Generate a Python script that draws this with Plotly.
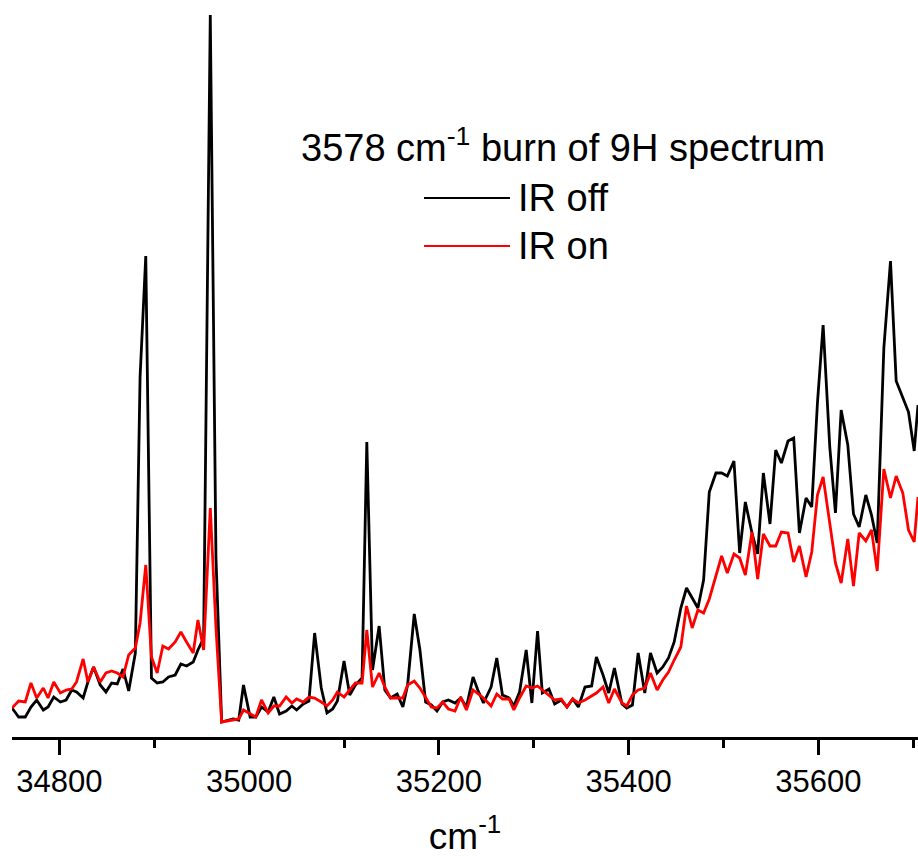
import plotly.graph_objects as go

# wavenumber grid (cm^-1)
wavenumber = [
    34750, 34757, 34764, 34770, 34776, 34783, 34788, 34794, 34801, 34807,
    34813, 34818, 34825, 34830, 34836, 34843, 34849, 34855, 34861, 34867,
    34873, 34880, 34885, 34891, 34897, 34903, 34909, 34915, 34922, 34928,
    34934, 34941, 34946, 34952, 34959, 34965, 34971, 34978, 34983, 34989,
    34994, 35001, 35007, 35013, 35020, 35026, 35032, 35039, 35045, 35050,
    35057, 35063, 35069, 35076, 35082, 35088, 35093, 35100, 35106, 35112,
    35119, 35124, 35130, 35137, 35143, 35149, 35156, 35162, 35167, 35174,
    35180, 35186, 35192, 35198, 35204, 35210, 35217, 35223, 35229, 35236,
    35241, 35247, 35255, 35261, 35267, 35274, 35279, 35285, 35292, 35298,
    35304, 35309, 35316, 35322, 35329, 35335, 35341, 35347, 35354, 35361,
    35366, 35373, 35379, 35385, 35393, 35398, 35404, 35410, 35417, 35423,
    35430, 35436, 35442, 35448, 35455, 35461, 35467, 35473, 35479, 35485,
    35492, 35498, 35504, 35511, 35517, 35523, 35530, 35536, 35542, 35549,
    35555, 35561, 35568, 35574, 35580, 35587, 35593, 35599, 35605, 35612,
    35618, 35624, 35631, 35637, 35643, 35650, 35656, 35662, 35669, 35676,
    35682, 35689, 35695, 35701, 35705,
]

# signal, IR laser off (arb. units)
ir_off = [
    29, 20, 20, 30, 37, 27, 30, 40, 35, 37,
    47, 45, 39, 55, 70, 52, 45, 54, 53, 68,
    46, 84, 360, 481, 59, 54, 55, 60, 62, 73,
    71, 75, 87, 99, 722, 179, 15, 17, 18, 17,
    52, 20, 20, 30, 25, 40, 23, 26, 31, 27,
    33, 36, 104, 49, 24, 28, 36, 76, 42, 52,
    59, 295, 67, 111, 47, 39, 43, 30, 52, 123,
    87, 35, 32, 26, 35, 37, 34, 39, 30, 60,
    47, 34, 50, 79, 42, 39, 31, 45, 87, 34,
    106, 44, 48, 33, 37, 30, 38, 30, 50, 51,
    80, 62, 44, 69, 33, 29, 32, 84, 44, 84,
    64, 70, 79, 95, 129, 149, 139, 129, 157, 245,
    264, 264, 261, 276, 184, 235, 204, 183, 264, 213,
    287, 274, 296, 299, 204, 239, 230, 334, 412, 290,
    224, 327, 292, 223, 210, 242, 222, 194, 389, 476,
    356, 340, 325, 286, 332,
]

# signal, IR laser on (arb. units)
ir_on = [
    29, 36, 35, 54, 39, 49, 39, 55, 44, 47,
    48, 55, 78, 55, 70, 55, 64, 66, 64, 60,
    82, 89, 114, 172, 80, 64, 91, 88, 95, 105,
    95, 84, 117, 87, 229, 109, 15, 16, 17, 18,
    27, 23, 20, 37, 24, 31, 31, 40, 34, 38,
    35, 40, 39, 35, 31, 37, 45, 40, 47, 54,
    54, 107, 50, 64, 50, 39, 39, 39, 52, 56,
    49, 39, 30, 29, 35, 28, 26, 40, 27, 47,
    43, 39, 31, 43, 38, 38, 27, 39, 51, 49,
    51, 47, 41, 37, 38, 30, 38, 34, 37, 41,
    44, 50, 34, 48, 34, 31, 42, 47, 49, 64,
    47, 57, 65, 77, 90, 131, 109, 127, 124, 138,
    160, 181, 164, 183, 179, 162, 205, 158, 203, 191,
    191, 205, 204, 175, 191, 160, 185, 242, 260, 214,
    174, 154, 198, 151, 204, 196, 207, 166, 268, 239,
    261, 244, 207, 195, 240,
]

tick_vals = [34800, 35000, 35200, 35400, 35600]
legend_title = "3578 cm<sup>-1</sup> burn of 9H spectrum"
series_names = ["IR off", "IR on"]
series_colors = ["#000000", "#ff0000"]

FONT = "Liberation Sans, Arial, sans-serif"

fig = go.Figure()
for name, ys, col in zip(series_names, [ir_off, ir_on], series_colors):
    fig.add_trace(go.Scatter(
        x=wavenumber, y=ys, mode="lines", name=name,
        line=dict(color=col, width=2.8), showlegend=False,
    ))

W, H = 918, 857
ML, MR, MT, MB = 12, 0, 12, 120
pw, ph = W - ML - MR, H - MT - MB


def px_x(x):
    return (x - ML) / pw


def px_y(y):
    return (H - MB - y) / ph


# manual legend (title, line samples, labels)
annotations = [
    dict(text=legend_title, x=px_x(299), y=px_y(145), xref="paper", yref="paper",
         xanchor="left", yanchor="middle", showarrow=False,
         font=dict(family=FONT, size=38, color="black")),
]
shapes = []
for i, (name, col) in enumerate(zip(series_names, series_colors)):
    yy = 198 + 48 * i
    shapes.append(dict(type="line", xref="paper", yref="paper",
                       x0=px_x(424), x1=px_x(510), y0=px_y(yy), y1=px_y(yy),
                       line=dict(color=col, width=2.2)))
    annotations.append(dict(text=name, x=px_x(516), y=px_y(yy), xref="paper", yref="paper",
                            xanchor="left", yanchor="middle", showarrow=False,
                            font=dict(family=FONT, size=38, color="black")))

fig.update_layout(
    width=W, height=H,
    margin=dict(l=ML, r=MR, t=MT, b=MB),
    paper_bgcolor="white", plot_bgcolor="white",
    showlegend=False,
    annotations=annotations, shapes=shapes,
    xaxis=dict(
        range=[34750, 35705], showgrid=False, zeroline=False, automargin=False,
        showline=True, linecolor="black", linewidth=3,
        ticks="outside", ticklen=15, tickwidth=3, tickcolor="black",
        tickvals=tick_vals, tickformat="d",
        tickfont=dict(family=FONT, size=31, color="black"),
        minor=dict(dtick=100, tick0=34800, ticks="outside", ticklen=8,
                   tickwidth=3, tickcolor="black", showgrid=False),
        title=dict(text="cm<sup>-1</sup>", standoff=34,
                   font=dict(family=FONT, size=37, color="black")),
    ),
    yaxis=dict(range=[0, 725], visible=False, showgrid=False, zeroline=False,
               automargin=False),
)

fig.write_html("out.html")
